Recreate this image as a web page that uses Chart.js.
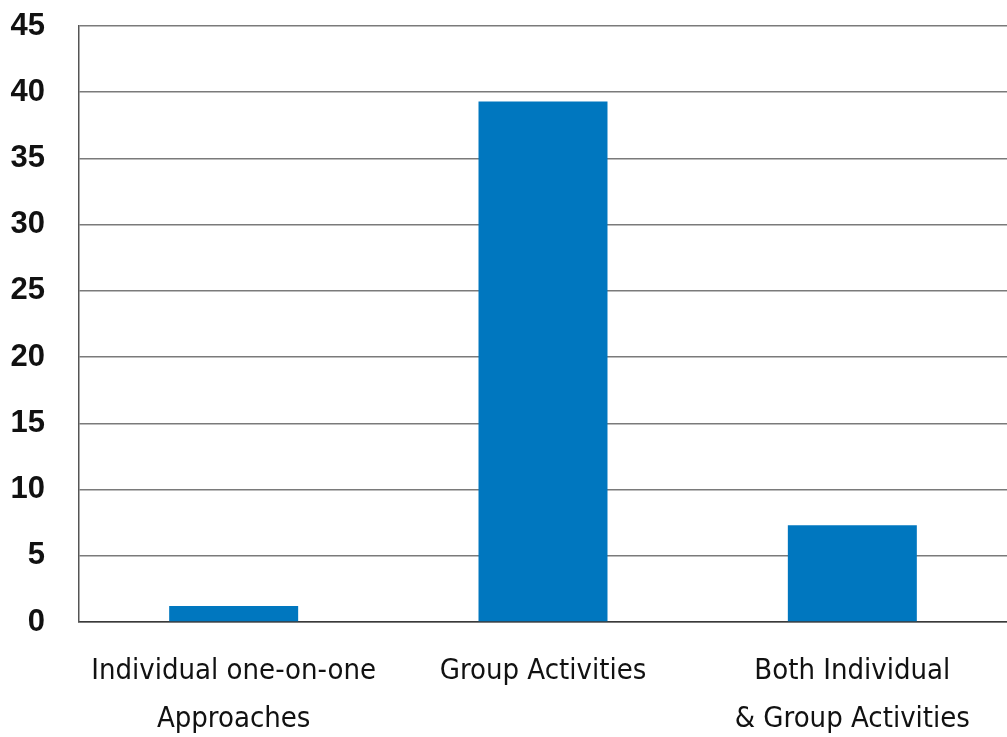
<!DOCTYPE html>
<html>
<head>
<meta charset="utf-8">
<script src="https://cdn.jsdelivr.net/npm/chart.js@4.4.1/dist/chart.umd.min.js"></script>
<style>
  html, body { margin: 0; padding: 0; background: #fff; }
  #wrap { width: 1007px; height: 737px; position: relative; }
</style>
</head>
<body>
<div id="wrap"><canvas id="barChart"></canvas></div>
<script>
// categories (multi-line labels) and values
const categories = [
    ['Individual one-on-one', 'Approaches'],
    'Group Activities',
    ['Both Individual', '& Group Activities']
];
const counts = [1.2, 39.3, 7.3];
const yMin = 0;
const yMax = 45;
const yStep = 5;

const labelFont = '"Liberation Sans Narrow", "DejaVu Sans Condensed", "Arial Narrow", sans-serif';

document.addEventListener("DOMContentLoaded", function () {
    const ctx = document.getElementById('barChart').getContext('2d');

    window.barChart = new Chart(ctx, {
        type: 'bar',
        data: {
            labels: categories,
            datasets: [{
                data: counts,
                backgroundColor: '#0077bf',
                borderWidth: 0,
                categoryPercentage: 1,
                barPercentage: 0.417
            }]
        },
        options: {
            responsive: true,
            maintainAspectRatio: false,
            animation: false,
            layout: {
                padding: { top: 26, right: 0, left: 0, bottom: 0 }
            },
            plugins: {
                legend: { display: false },
                tooltip: { enabled: false }
            },
            scales: {
                x: {
                    grid: { display: false, drawTicks: false },
                    border: { display: true, color: '#3a3a3a', width: 1.5 },
                    ticks: {
                        color: '#111',
                        padding: 26,
                        maxRotation: 0,
                        autoSkip: false,
                        font: { family: labelFont, size: 29, lineHeight: 1.65 }
                    },
                    afterFit: function (scale) {
                        scale.height = 115;
                        scale.paddingLeft = 0;
                        scale.paddingRight = 0;
                    }
                },
                y: {
                    min: yMin,
                    max: yMax,
                    grid: {
                        color: '#7a7a7a',
                        lineWidth: 1.5,
                        drawTicks: false
                    },
                    border: { display: true, color: '#555', width: 1.5 },
                    ticks: {
                        stepSize: yStep,
                        color: '#111',
                        padding: 34,
                        font: { family: '"Liberation Sans", Arial, sans-serif', size: 31, weight: 'bold' }
                    },
                    afterFit: function (scale) {
                        scale.width = 79;
                        scale.paddingTop = 0;
                        scale.paddingBottom = 0;
                    }
                }
            }
        }
    });
});
</script>
</body>
</html>
